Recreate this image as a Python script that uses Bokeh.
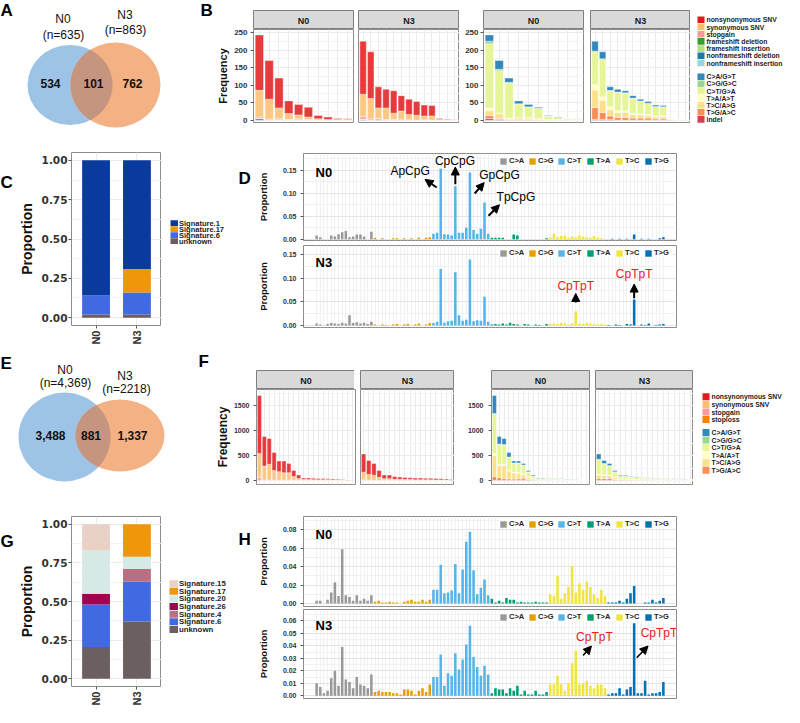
import numpy as np
from bokeh.plotting import figure
from bokeh.models import (Range1d, FixedTicker, Label, Legend, LegendItem, Arrow,
                          NormalHead, PrintfTickFormatter, ColumnDataSource)
from bokeh.layouts import row, column
from bokeh.embed import file_html
from bokeh.resources import INLINE
from bokeh.core.properties import value

FONT = "Liberation Sans"
WIDE = "DejaVu Sans"

# ======================= DATA =======================
SAMPLES = ["N0", "N3"]

VENN_A_COUNTS = ["534", "101", "762"]
VENN_A_TOTALS = ["635", "863"]
VENN_E_COUNTS = ["3,488", "881", "1,337"]
VENN_E_TOTALS = ["4,369", "2218"]

FUNC_CATS = ["nonsynonymous SNV", "synonymous SNV", "stopgain", "frameshift deletion",
             "frameshift insertion", "nonframeshift deletion", "nonframeshift insertion"]
FUNC_COLORS = ["#E31A1C", "#FDBF6F", "#FB9A99", "#33A02C", "#B2DF8A", "#1F78B4", "#A6CEE3"]
FUNC2_CATS = ["nonsynonymous SNV", "synonymous SNV", "stopgain", "stoploss"]
FUNC2_COLORS = ["#E31A1C", "#FDBF6F", "#FB9A99", "#FF7F00"]
MUT_CATS = ["C>A/G>T", "C>G/G>C", "C>T/G>A", "T>A/A>T", "T>C/A>G", "T>G/A>C", "indel"]
MUT_COLORS = ["#3288BD", "#99D594", "#E6F598", "#FFFFBF", "#FEE08B", "#FC8D59", "#D53E4F"]

# ---- B : genes per sample, annotation type ----
B_N0_NONSYN = [158, 110, 85, 36, 30, 28, 9, 7, 3, 2]
B_N0_SYN = [76, 57, 31, 17, 11, 7, 4, 2, 2, 2]
B_N0_STOPGAIN = [4, 3, 3, 1, 3, 1, 0, 0, 0, 0]
B_N0_FSDEL = [0, 0, 0, 0, 0, 0, 0, 0, 0, 0]
B_N0_FSINS = [0, 0, 1, 1, 1, 1, 0, 0, 0, 0]
B_N0_NFSDEL = [5, 0, 0, 0, 0, 0, 0, 0, 0, 0]
B_N0_NFSINS = [0, 0, 0, 0, 0, 0, 0, 0, 0, 0]

B_N3_NONSYN = [151, 133, 60, 53, 64, 44, 44, 39, 31, 30, 3, 2, 1]
B_N3_SYN = [64, 58, 30, 33, 18, 23, 15, 14, 11, 12, 2, 1, 1]
B_N3_STOPGAIN = [8, 4, 2, 2, 2, 3, 1, 0, 1, 0, 0, 0, 0]
B_N3_FSDEL = [0, 0, 3, 0, 0, 0, 0, 0, 0, 0, 0, 0, 0]
B_N3_FSINS = [0, 0, 0, 0, 0, 0, 0, 0, 0, 0, 0, 0, 0]
B_N3_NFSDEL = [2, 0, 0, 0, 0, 0, 0, 0, 0, 0, 0, 0, 0]
B_N3_NFSINS = [0, 0, 0, 0, 0, 0, 0, 0, 0, 0, 0, 0, 0]

# ---- B : genes per sample, mutation type ----
B_N0_CA = [18, 25, 12, 8, 7, 3, 1, 1, 0, 0]
B_N0_CG = [7, 4, 2, 1, 1, 0, 1, 0, 0, 1]
B_N0_CT = [183, 121, 100, 38, 30, 30, 9, 6, 4, 2]
B_N0_TA = [8, 2, 1, 1, 1, 1, 0, 1, 0, 0]
B_N0_TC = [14, 13, 3, 5, 4, 2, 2, 1, 1, 1]
B_N0_TG = [8, 3, 2, 2, 2, 1, 0, 0, 0, 0]
B_N0_INDEL = [5, 2, 0, 0, 0, 0, 0, 0, 0, 0]

B_N3_CA = [28, 20, 10, 8, 6, 7, 5, 5, 4, 4, 0, 0, 0]
B_N3_CG = [3, 3, 2, 1, 1, 1, 1, 1, 0, 0, 0, 0, 0]
B_N3_CT = [93, 105, 45, 52, 50, 42, 36, 30, 27, 25, 3, 2, 1]
B_N3_TA = [15, 10, 8, 6, 5, 4, 3, 3, 2, 2, 0, 0, 0]
B_N3_TC = [50, 35, 18, 13, 14, 10, 9, 8, 6, 7, 1, 1, 1]
B_N3_TG = [34, 20, 10, 8, 8, 6, 6, 6, 4, 4, 1, 0, 0]
B_N3_INDEL = [2, 2, 2, 0, 0, 0, 0, 0, 0, 0, 0, 0, 0]

# ---- F : annotation type ----
F_N0_NONSYN = [1160, 590, 515, 360, 215, 235, 185, 120, 70, 30, 32, 28, 25, 25, 22, 19, 15, 12, 6, 3]
F_N0_SYN = [480, 280, 315, 190, 170, 150, 150, 75, 38, 18, 17, 15, 14, 14, 12, 10, 9, 7, 4, 2]
F_N0_STOPGAIN = [60, 10, 10, 10, 5, 5, 5, 5, 2, 2, 1, 2, 1, 1, 1, 1, 1, 1, 0, 0]
F_N0_STOPLOSS = [0, 0, 0, 0, 0, 0, 0, 0, 0, 0, 0, 0, 0, 0, 0, 0, 0, 0, 0, 0]

F_N3_NONSYN = [365, 282, 234, 137, 73, 73, 54, 47, 40, 37, 34, 34, 31, 31, 28, 25, 21, 14]
F_N3_SYN = [150, 110, 100, 60, 35, 35, 25, 22, 19, 17, 15, 15, 13, 13, 12, 10, 9, 6]
F_N3_STOPGAIN = [15, 8, 6, 3, 2, 2, 1, 1, 1, 1, 1, 1, 1, 1, 0, 0, 0, 0]
F_N3_STOPLOSS = [0, 0, 0, 0, 0, 0, 0, 0, 0, 0, 0, 0, 0, 0, 0, 0, 0, 0]

# ---- F : mutation type ----
F_N0_CA = [360, 150, 120, 90, 40, 40, 30, 25, 20, 8, 8, 6, 5, 5, 4, 3, 3, 3, 2, 1]
F_N0_CG = [20, 10, 10, 5, 5, 5, 5, 5, 2, 2, 1, 1, 1, 1, 1, 1, 0, 0, 0, 0]
F_N0_CT = [780, 400, 390, 260, 180, 190, 170, 100, 50, 25, 26, 24, 22, 22, 19, 17, 14, 11, 5, 3]
F_N0_TA = [40, 20, 20, 15, 15, 10, 10, 5, 3, 2, 2, 2, 1, 1, 1, 1, 1, 1, 0, 0]
F_N0_TC = [420, 240, 260, 160, 120, 110, 80, 45, 25, 10, 10, 9, 8, 8, 7, 6, 5, 4, 2, 1]
F_N0_TG = [80, 60, 40, 30, 30, 35, 45, 20, 10, 3, 3, 3, 3, 3, 3, 2, 2, 1, 1, 0]

F_N3_CA = [105, 60, 40, 25, 15, 15, 10, 8, 7, 6, 6, 5, 5, 5, 4, 4, 3, 2]
F_N3_CG = [10, 5, 5, 3, 2, 2, 1, 1, 1, 1, 1, 1, 1, 1, 1, 0, 0, 0]
F_N3_CT = [290, 220, 190, 110, 60, 58, 45, 40, 35, 32, 29, 30, 26, 26, 23, 21, 18, 12]
F_N3_TA = [15, 15, 10, 7, 3, 5, 3, 3, 2, 2, 2, 2, 2, 2, 1, 1, 1, 1]
F_N3_TC = [70, 60, 55, 35, 20, 20, 14, 12, 10, 9, 8, 8, 7, 7, 7, 6, 5, 3]
F_N3_TG = [40, 40, 40, 20, 10, 10, 7, 6, 5, 5, 4, 4, 4, 4, 4, 3, 3, 2]

# ---- C / G : signature proportions (N0, N3) ----
SIG_C_CATS = ["Signature.1", "Signature.17", "Signature.6", "unknown"]
SIG_C_COLORS = ["#0B3A9E", "#F0960A", "#4169E1", "#6B5F5F"]
C_SIG1 = [0.86, 0.69]
C_SIG17 = [0.0, 0.15]
C_SIG6 = [0.12, 0.14]
C_UNKNOWN = [0.02, 0.02]

SIG_G_CATS = ["Signature.15", "Signature.17", "Signature.20", "Signature.26",
              "Signature.4", "Signature.6", "unknown"]
SIG_G_COLORS = ["#E9D1C6", "#F0960A", "#D5EAE6", "#A3004F", "#B96F7F", "#4169E1", "#6B5F5F"]
G_SIG15 = [0.17, 0.0]
G_SIG17 = [0.0, 0.21]
G_SIG20 = [0.28, 0.08]
G_SIG26 = [0.07, 0.0]
G_SIG4 = [0.0, 0.08]
G_SIG6 = [0.275, 0.26]
G_UNKNOWN = [0.205, 0.37]

# ---- D / H : 96-channel spectra ----
SPEC_CATS = ["C>A", "C>G", "C>T", "T>A", "T>C", "T>G"]
SPEC_COLORS = ["#999999", "#E69F00", "#56B4E9", "#009E73", "#F0E442", "#0072B2"]

D_N0_CA = [0.008, 0.004, 0.0, 0.0, 0.008, 0.006, 0.011, 0.015, 0.018, 0.004, 0.006, 0.010, 0.010, 0.006, 0.0, 0.016]
D_N0_CG = [0.003, 0.0, 0.002, 0.0, 0.0, 0.002, 0.002, 0.0, 0.002, 0.0, 0.002, 0.0, 0.003, 0.0, 0.003, 0.004]
D_N0_CT = [0.012, 0.014, 0.153, 0.011, 0.010, 0.008, 0.115, 0.014, 0.014, 0.025, 0.145, 0.020, 0.012, 0.023, 0.080, 0.012]
D_N0_TA = [0.003, 0.003, 0.003, 0.003, 0.0, 0.0, 0.010, 0.008, 0.0, 0.0, 0.0, 0.0, 0.0, 0.0, 0.0, 0.002]
D_N0_TC = [0.004, 0.012, 0.005, 0.007, 0.008, 0.003, 0.006, 0.004, 0.008, 0.006, 0.004, 0.003, 0.007, 0.003, 0.002, 0.0]
D_N0_TG = [0.0, 0.001, 0.0, 0.001, 0.0, 0.001, 0.0, 0.010, 0.0, 0.001, 0.0, 0.001, 0.0, 0.0, 0.002, 0.004]

D_N3_CA = [0.004, 0.002, 0.0, 0.003, 0.005, 0.004, 0.003, 0.006, 0.004, 0.022, 0.005, 0.007, 0.004, 0.006, 0.003, 0.008]
D_N3_CG = [0.002, 0.0, 0.002, 0.001, 0.0, 0.002, 0.003, 0.0, 0.002, 0.003, 0.0, 0.002, 0.004, 0.0, 0.002, 0.005]
D_N3_CT = [0.005, 0.008, 0.120, 0.006, 0.009, 0.010, 0.113, 0.022, 0.010, 0.012, 0.140, 0.009, 0.011, 0.010, 0.061, 0.008]
D_N3_TA = [0.002, 0.003, 0.002, 0.004, 0.002, 0.006, 0.003, 0.002, 0.0, 0.003, 0.002, 0.0, 0.002, 0.001, 0.0, 0.003]
D_N3_TC = [0.003, 0.004, 0.003, 0.005, 0.004, 0.002, 0.004, 0.030, 0.004, 0.003, 0.005, 0.004, 0.003, 0.002, 0.003, 0.002]
D_N3_TG = [0.001, 0.0, 0.002, 0.001, 0.0, 0.003, 0.002, 0.055, 0.0, 0.002, 0.001, 0.004, 0.0, 0.001, 0.002, 0.003]

H_N0_CA = [0.003, 0.003, 0.0, 0.004, 0.012, 0.023, 0.008, 0.059, 0.009, 0.007, 0.003, 0.009, 0.003, 0.005, 0.003, 0.009]
H_N0_CG = [0.002, 0.003, 0.001, 0.001, 0.002, 0.001, 0.001, 0.0, 0.002, 0.003, 0.004, 0.002, 0.002, 0.004, 0.002, 0.004]
H_N0_CT = [0.015, 0.015, 0.042, 0.011, 0.012, 0.014, 0.043, 0.011, 0.037, 0.067, 0.078, 0.036, 0.010, 0.017, 0.026, 0.009]
H_N0_TA = [0.005, 0.001, 0.003, 0.001, 0.006, 0.004, 0.004, 0.001, 0.002, 0.001, 0.001, 0.001, 0.002, 0.001, 0.001, 0.001]
H_N0_TC = [0.010, 0.008, 0.030, 0.005, 0.011, 0.018, 0.041, 0.012, 0.022, 0.015, 0.024, 0.018, 0.010, 0.006, 0.015, 0.008]
H_N0_TG = [0.001, 0.001, 0.001, 0.003, 0.001, 0.005, 0.011, 0.019, 0.0, 0.0, 0.001, 0.001, 0.004, 0.001, 0.003, 0.006]

H_N3_CA = [0.010, 0.007, 0.002, 0.004, 0.014, 0.020, 0.008, 0.039, 0.013, 0.011, 0.006, 0.015, 0.009, 0.008, 0.006, 0.017]
H_N3_CG = [0.003, 0.004, 0.003, 0.003, 0.003, 0.002, 0.002, 0.001, 0.005, 0.005, 0.004, 0.001, 0.004, 0.006, 0.003, 0.009]
H_N3_CT = [0.015, 0.015, 0.033, 0.008, 0.018, 0.016, 0.034, 0.021, 0.029, 0.041, 0.056, 0.031, 0.023, 0.016, 0.024, 0.017]
H_N3_TA = [0.002, 0.006, 0.005, 0.005, 0.002, 0.006, 0.004, 0.008, 0.001, 0.004, 0.001, 0.001, 0.004, 0.001, 0.001, 0.003]
H_N3_TC = [0.009, 0.009, 0.016, 0.009, 0.004, 0.010, 0.026, 0.036, 0.009, 0.010, 0.012, 0.008, 0.006, 0.009, 0.009, 0.006]
H_N3_TG = [0.001, 0.002, 0.002, 0.006, 0.001, 0.005, 0.007, 0.058, 0.002, 0.002, 0.012, 0.001, 0.002, 0.002, 0.003, 0.011]

VENN_BLUE = "#9DC3E6"
VENN_ORANGE = "#F4B183"
VENN_OVER = "#C6957F"
GRID = "#EBEBEB"
GRID_MINOR = "#F4F4F4"
FRAME = "#8C8C8C"


# ======================= HELPERS =======================
def new_fig(**kw):
    base = dict(output_backend="svg", toolbar_location=None, title=None)
    base.update(kw)
    p = figure(**base)
    p.border_fill_color = "white"
    p.background_fill_color = "white"
    return p


def blank_fig(w, h):
    p = new_fig(width=w, height=h, x_range=Range1d(0, w), y_range=Range1d(0, h),
                min_border=0, x_axis_location=None, y_axis_location=None)
    p.grid.visible = False
    p.outline_line_color = None
    return p


def put_text(p, xs, ys, texts, size, bold=True, align="left", baseline="middle",
             color="#111111"):
    h = p.y_range.end
    p.text(x=list(xs), y=[h - y for y in ys], text=list(texts), text_font=value(FONT),
           text_font_size=value(size), text_font_style="bold" if bold else "normal",
           text_align=align, text_baseline=baseline, text_color=color)


def style_axis(ax, fs, font=FONT, standoff=3, tick_out=3):
    ax.major_label_text_font = font
    ax.major_label_text_font_size = fs
    ax.major_label_text_font_style = "bold"
    ax.major_label_text_color = "#333333"
    ax.major_tick_out = tick_out
    ax.major_tick_in = 0
    ax.minor_tick_line_color = None
    ax.axis_line_color = None
    ax.major_tick_line_color = "#555555"
    ax.major_label_standoff = standoff


def axis_title(ax, text, size, standoff):
    ax.axis_label = text
    ax.axis_label_text_font = FONT
    ax.axis_label_text_font_size = size
    ax.axis_label_text_font_style = "bold"
    ax.axis_label_text_color = "#111111"
    ax.axis_label_standoff = standoff


def venn(W, H, blue, orange, counts, count_xy, heads, head_xy):
    p = blank_fig(W, H)
    bx, by, bw, bh = blue
    ox, oy, ow, oh = orange
    p.ellipse(x=[bx], y=[H - by], width=[bw], height=[bh], fill_color=VENN_BLUE, line_color=None)
    p.ellipse(x=[ox], y=[H - oy], width=[ow], height=[oh], fill_color=VENN_ORANGE, line_color=None)
    t = np.linspace(0, 2 * np.pi, 720, endpoint=False)
    bxs = bx + bw / 2 * np.cos(t)
    bys = by + bh / 2 * np.sin(t)
    oxs = ox + ow / 2 * np.cos(t)
    oys = oy + oh / 2 * np.sin(t)
    in_o = ((bxs - ox) / (ow / 2)) ** 2 + ((bys - oy) / (oh / 2)) ** 2 <= 1
    in_b = ((oxs - bx) / (bw / 2)) ** 2 + ((oys - by) / (bh / 2)) ** 2 <= 1
    lx = np.concatenate([bxs[in_o], oxs[in_b]])
    ly = np.concatenate([bys[in_o], oys[in_b]])
    order = np.argsort(np.arctan2(ly - ly.mean(), lx - lx.mean()))
    p.patch(x=list(lx[order]), y=list(H - ly[order]), fill_color=VENN_OVER, line_color=None)
    put_text(p, [c[0] for c in count_xy], [c[1] for c in count_xy], counts, "12px", align="center")
    put_text(p, [c[0] for c in head_xy], [c[1] for c in head_xy], heads, "12px", bold=False,
             align="center")
    return p


def facet(n, stacks, colors, alpha, frame_w, strip_h, panel_h, left, right, top, bottom,
          yr, yt, ymt, label, show_y, tick_fs, tick_standoff):
    s = new_fig(frame_width=frame_w, frame_height=strip_h,
                min_border_left=left, min_border_right=right,
                min_border_top=top, min_border_bottom=0,
                x_range=Range1d(0, 1), y_range=Range1d(0, 1),
                x_axis_location=None, y_axis_location=None)
    s.grid.visible = False
    s.background_fill_color = "#D9D9D9"
    s.outline_line_color = "#7F7F7F"
    s.add_layout(Label(x=0.5, y=0.45, text=label, text_align="center", text_baseline="middle",
                       text_font=FONT, text_font_size="9px", text_font_style="bold",
                       text_color="#1A1A1A"))

    p = new_fig(frame_width=frame_w, frame_height=panel_h,
                min_border_left=left, min_border_right=right,
                min_border_top=0, min_border_bottom=bottom,
                x_range=Range1d(0.4, n + 0.6), y_range=Range1d(*yr),
                x_axis_location=None, y_axis_location="left" if show_y else None)
    xs = list(range(1, n + 1))
    data = {"x": xs}
    names = []
    for i, vals in enumerate(stacks):
        data["s%d" % i] = vals
        names.append("s%d" % i)
    p.vbar_stack(names[::-1], x="x", width=0.85, source=ColumnDataSource(data),
                 fill_color=list(colors[:len(stacks)])[::-1], fill_alpha=alpha,
                 line_color="white", line_width=0.4)
    p.xgrid.ticker = FixedTicker(ticks=xs)
    p.xgrid.grid_line_color = GRID
    p.ygrid.ticker = FixedTicker(ticks=yt, minor_ticks=ymt)
    p.ygrid.grid_line_color = GRID
    p.ygrid.minor_grid_line_color = GRID_MINOR
    p.outline_line_color = FRAME
    if show_y:
        p.yaxis.ticker = FixedTicker(ticks=yt)
        style_axis(p.yaxis, tick_fs, standoff=tick_standoff)
    return s, p


def legend_fig(w, h, groups, sq_x, sq_w, sq_h, txt_x, fs, alpha=1.0):
    p = blank_fig(w, h)
    ys, cols, labs = [], [], []
    for labels, colors, y0, step in groups:
        for i, (lab, col) in enumerate(zip(labels, colors)):
            ys.append(y0 + i * step)
            cols.append(col)
            labs.append(lab)
    p.rect(x=[sq_x + sq_w / 2] * len(ys), y=[h - y for y in ys], width=sq_w, height=sq_h,
           fill_color=cols, fill_alpha=alpha, line_color=None)
    put_text(p, [txt_x] * len(ys), ys, labs, fs, color="#222222")
    return p


def sig_plot(stacks, colors, frame_h, left, top, bottom):
    p = new_fig(frame_width=90, frame_height=frame_h, min_border_left=left, min_border_right=0,
                min_border_top=top, min_border_bottom=bottom,
                x_range=Range1d(0.4, 2.6), y_range=Range1d(-0.05, 1.05))
    xs = list(range(1, len(SAMPLES) + 1))
    data = {"x": xs}
    names = []
    for i, vals in enumerate(stacks):
        data["s%d" % i] = vals
        names.append("s%d" % i)
    p.vbar_stack(names[::-1], x="x", width=0.68, source=ColumnDataSource(data),
                 fill_color=list(colors)[::-1], line_color=None)
    p.xaxis.ticker = FixedTicker(ticks=xs)
    p.xaxis.major_label_overrides = {x: s for x, s in zip(xs, SAMPLES)}
    p.xaxis.major_label_orientation = np.pi / 2
    style_axis(p.xaxis, "11px", standoff=2)
    p.yaxis.ticker = FixedTicker(ticks=[0, 0.25, 0.5, 0.75, 1.0])
    p.yaxis.formatter = PrintfTickFormatter(format="%.2f")
    style_axis(p.yaxis, "10.5px", font=WIDE, standoff=1)
    axis_title(p.yaxis, "Proportion", "14px", 4)
    p.xgrid.ticker = FixedTicker(ticks=xs)
    p.xgrid.grid_line_color = GRID
    p.ygrid.ticker = FixedTicker(ticks=[0, 0.25, 0.5, 0.75, 1.0],
                                 minor_ticks=[0.125, 0.375, 0.625, 0.875])
    p.ygrid.grid_line_color = GRID
    p.ygrid.minor_grid_line_color = GRID_MINOR
    p.outline_line_color = FRAME
    return p


def spectrum(groups, yr, yt, ymt, frame_h, top, bottom, tag, tag_y):
    p = new_fig(frame_width=373, frame_height=frame_h, min_border_left=48, min_border_right=115,
                min_border_top=top, min_border_bottom=bottom,
                x_range=Range1d(-2.6, 99.6), y_range=Range1d(*yr), x_axis_location=None)
    items = []
    allx = []
    for k, (cat, col, vals) in enumerate(zip(SPEC_CATS, SPEC_COLORS, groups)):
        xs = [16 * k + j + 1 for j in range(len(vals))]
        allx += xs
        r = p.vbar(x=xs, top=vals, width=0.7, fill_color=col, line_color=None)
        items.append(LegendItem(label=cat, renderers=[r]))
    leg = Legend(items=items, orientation="horizontal", location="top_right",
                 glyph_width=8, glyph_height=8, label_standoff=2, spacing=0,
                 padding=2, margin=3, label_width=19, label_height=8,
                 label_text_font=FONT, label_text_font_size="7.5px",
                 label_text_font_style="bold", label_text_color="#222222",
                 background_fill_color="white", background_fill_alpha=0.9,
                 border_line_color=None)
    p.add_layout(leg)
    p.xgrid.ticker = FixedTicker(ticks=allx)
    p.xgrid.grid_line_color = "#F1F1F1"
    p.ygrid.ticker = FixedTicker(ticks=yt, minor_ticks=ymt)
    p.ygrid.grid_line_color = "#E4E4E4"
    p.ygrid.minor_grid_line_color = "#F1F1F1"
    p.outline_line_color = FRAME
    p.yaxis.ticker = FixedTicker(ticks=yt)
    p.yaxis.formatter = PrintfTickFormatter(format="%.2f")
    style_axis(p.yaxis, "7px", standoff=4)
    axis_title(p.yaxis, "Proportion", "9.5px", 11)
    p.add_layout(Label(x=12, y=tag_y, x_units="screen", y_units="screen", text=tag,
                       text_font=FONT, text_font_size="13px", text_font_style="bold",
                       text_baseline="middle", text_color="#000000"))
    return p


def annotate(p, text, tx, ty, x0, y0, x1, y1, color="#000000", lw=2):
    p.add_layout(Label(x=tx, y=ty, text=text, text_align="center", text_baseline="middle",
                       text_font=FONT, text_font_size="12px", text_color=color))
    p.add_layout(Arrow(end=NormalHead(size=8, fill_color="black", line_color="black"),
                       x_start=x0, y_start=y0, x_end=x1, y_end=y1,
                       line_width=lw, line_color="black"))


# ======================= ROW 1 : A + B =======================
fig_a = venn(214, 137, (69.5, 84.5, 85, 80), (115, 84.5, 90, 85),
             VENN_A_COUNTS, [(50, 83), (93, 83), (132, 83)],
             [SAMPLES[0], "(n=%s)" % VENN_A_TOTALS[0], SAMPLES[1], "(n=%s)" % VENN_A_TOTALS[1]],
             [(62.5, 18), (63, 34), (124.5, 14.5), (125, 29.5)])
put_text(fig_a, [0, 200], [0, 0], ["A", "B"], "17px", baseline="top", color="#000000")

B_YR = (-6.6, 258.5)
B_YT = [0, 50, 100, 150, 200, 250]
B_YMT = [25, 75, 125, 175, 225]
s1, b1 = facet(10, [B_N0_NONSYN, B_N0_SYN, B_N0_STOPGAIN, B_N0_FSDEL, B_N0_FSINS, B_N0_NFSDEL, B_N0_NFSINS],
               FUNC_COLORS, 0.85, 100, 19, 93, 38, 5, 10, 15, B_YR, B_YT, B_YMT, "N0", True, "8px", 3)
s2, b2 = facet(13, [B_N3_NONSYN, B_N3_SYN, B_N3_STOPGAIN, B_N3_FSDEL, B_N3_FSINS, B_N3_NFSDEL, B_N3_NFSINS],
               FUNC_COLORS, 0.85, 101, 19, 93, 0, 0, 10, 15, B_YR, B_YT, B_YMT, "N3", False, "8px", 3)
s3, b3 = facet(10, [B_N0_CA, B_N0_CG, B_N0_CT, B_N0_TA, B_N0_TC, B_N0_TG, B_N0_INDEL],
               MUT_COLORS, 1.0, 100, 19, 93, 24, 7, 10, 15, B_YR, B_YT, B_YMT, "N0", True, "8px", 2)
s4, b4 = facet(13, [B_N3_CA, B_N3_CG, B_N3_CT, B_N3_TA, B_N3_TC, B_N3_TG, B_N3_INDEL],
               MUT_COLORS, 1.0, 100, 19, 93, 0, 0, 10, 15, B_YR, B_YT, B_YMT, "N3", False, "8px", 3)
axis_title(b1.yaxis, "Frequency", "11px", 2)
b_leg = legend_fig(95, 137, [(FUNC_CATS, FUNC_COLORS, 19.3, 7.2),
                             (MUT_CATS, MUT_COLORS, 76.3, 7.1)],
                   7, 7, 6.6, 16, "6.8px")

row1 = row(fig_a, column(s1, b1), column(s2, b2), column(s3, b3), column(s4, b4), b_leg)

# ======================= ROW 2 : C + D =======================
let_c = blank_fig(15, 211)
put_text(let_c, [0], [25], ["C"], "17px", baseline="top", color="#000000")
fig_c = sig_plot([C_SIG1, C_SIG17, C_SIG6, C_UNKNOWN], SIG_C_COLORS, 173, 50, 15, 23)
c_leg = legend_fig(93, 211, [(SIG_C_CATS, SIG_C_COLORS, 86, 7.4)], 9, 7.5, 7, 17.5, "7.5px")
put_text(c_leg, [77], [20], ["D"], "17px", baseline="top", color="#000000")

d0 = spectrum([D_N0_CA, D_N0_CG, D_N0_CT, D_N0_TA, D_N0_TC, D_N0_TG], (-0.0028, 0.1863),
              [0, 0.05, 0.10, 0.15], [0.025, 0.075, 0.125, 0.175], 87, 16, 3, "N0", 68)
d3 = spectrum([D_N3_CA, D_N3_CG, D_N3_CT, D_N3_TA, D_N3_TC, D_N3_TG], (-0.0043, 0.170),
              [0, 0.05, 0.10, 0.15], [0.025, 0.075, 0.125], 82, 2, 21, "N3", 65)
annotate(d0, "ApCpG", 26.6, 0.1487, 33.9, 0.1124, 30.7, 0.130)
annotate(d0, "CpCpG", 38.9, 0.170, 39.0, 0.1196, 39.0, 0.157)
annotate(d0, "GpCpG", 51.1, 0.140, 44.3, 0.0993, 46.9, 0.123)
annotate(d0, "TpCpG", 55.6, 0.0907, 48.1, 0.051, 51.1, 0.0748)
annotate(d3, "CpTpT", 72.0, 0.0845, 72.0, 0.049, 72.0, 0.068, color="#E8201E")
annotate(d3, "CpTpT", 88.0, 0.109, 88.0, 0.058, 88.0, 0.088, color="#E8201E")

row2 = row(let_c, fig_c, c_leg, column(d0, d3))

# ======================= ROW 3 : E + F =======================
fig_e = venn(212, 144, (64, 88.5, 92, 89), (119.5, 87, 89, 72),
             VENN_E_COUNTS, [(50, 87), (90.5, 87), (132, 87)],
             [SAMPLES[0], "(n=%s)" % VENN_E_TOTALS[0], SAMPLES[1], "(n=%s)" % VENN_E_TOTALS[1]],
             [(64.5, 21), (65, 34), (124.5, 27), (126, 40)])
put_text(fig_e, [0, 198], [5, 3], ["E", "F"], "17px", baseline="top", color="#000000")

F_YR = (-80, 1820)
F_YT = [0, 500, 1000, 1500]
F_YMT = [250, 750, 1250, 1750]
t1, f1 = facet(20, [F_N0_NONSYN, F_N0_SYN, F_N0_STOPGAIN, F_N0_STOPLOSS], FUNC2_COLORS, 0.85,
               99, 19, 95, 38, 5, 22, 8, F_YR, F_YT, F_YMT, "N0", True, "7px", 4)
t2, f2 = facet(18, [F_N3_NONSYN, F_N3_SYN, F_N3_STOPGAIN, F_N3_STOPLOSS], FUNC2_COLORS, 0.85,
               94, 19, 95, 0, 0, 22, 8, F_YR, F_YT, F_YMT, "N3", False, "7px", 4)
t3, f3 = facet(20, [F_N0_CA, F_N0_CG, F_N0_CT, F_N0_TA, F_N0_TC, F_N0_TG], MUT_COLORS, 1.0,
               98, 19, 95, 37, 6, 22, 8, F_YR, F_YT, F_YMT, "N0", True, "7px", 5)
t4, f4 = facet(18, [F_N3_CA, F_N3_CG, F_N3_CT, F_N3_TA, F_N3_TC, F_N3_TG], MUT_COLORS, 1.0,
               98, 19, 95, 0, 0, 22, 8, F_YR, F_YT, F_YMT, "N3", False, "7px", 5)
axis_title(f1.yaxis, "Frequency", "12px", 1)
f_leg = legend_fig(97, 144, [(FUNC2_CATS, FUNC2_COLORS, 48.3, 7.6),
                             (MUT_CATS[:6], MUT_COLORS[:6], 84, 7.55)],
                   9, 7, 7, 18, "6.8px")

row3 = row(fig_e, column(t1, f1), column(t2, f2), column(t3, f3), column(t4, f4), f_leg)

# ======================= ROW 4 : G + H =======================
let_g = blank_fig(15, 215)
put_text(let_g, [0], [20], ["G"], "17px", baseline="top", color="#000000")
fig_g = sig_plot([G_SIG15, G_SIG17, G_SIG20, G_SIG26, G_SIG4, G_SIG6, G_UNKNOWN],
                 SIG_G_COLORS, 170, 50, 24, 21)
g_leg = legend_fig(93, 215, [(SIG_G_CATS, SIG_G_COLORS, 85.5, 9.7)], 8, 8.5, 9, 17.5, "7.8px")
put_text(g_leg, [77], [17], ["H"], "17px", baseline="top", color="#000000")

h0 = spectrum([H_N0_CA, H_N0_CG, H_N0_CT, H_N0_TA, H_N0_TC, H_N0_TG], (-0.0033, 0.0946),
              [0, 0.02, 0.04, 0.06, 0.08], [0.01, 0.03, 0.05, 0.07, 0.09], 90, 24, 2, "N0", 72)
h3 = spectrum([H_N3_CA, H_N3_CG, H_N3_CT, H_N3_TA, H_N3_TC, H_N3_TG], (-0.0022, 0.069),
              [0, 0.01, 0.02, 0.03, 0.04, 0.05, 0.06], [0.005, 0.015, 0.025, 0.035, 0.045, 0.055, 0.065],
              89, 1, 9, "N3", 73)
annotate(h3, "CpTpT", 77.1, 0.0472, 74.0, 0.0322, 76.3, 0.0398, color="#E8201E", lw=1.5)
annotate(h3, "CpTpT", 94.8, 0.0504, 88.7, 0.0304, 91.8, 0.0398, color="#E8201E", lw=1.5)

row4 = row(let_g, fig_g, g_leg, column(h0, h3))

layout = column(row1, row2, row3, row4)

with open("out.html", "w") as fh:
    fh.write(file_html(layout, INLINE, title="figure"))
